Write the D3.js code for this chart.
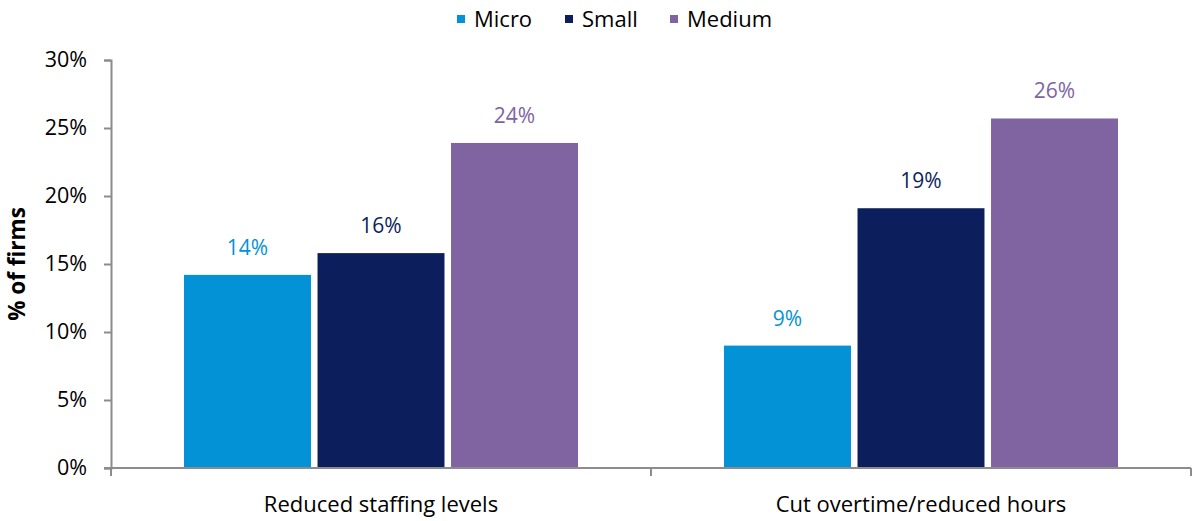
<!DOCTYPE html>
<html>
<head>
<meta charset="utf-8">
<script src="https://cdn.jsdelivr.net/npm/d3@7"></script>
<style>
  html, body { margin: 0; padding: 0; background: #fff; }
  svg { display: block; font-family: "Open Sans", "Noto Sans", sans-serif; }
</style>
</head>
<body>
<svg id="chart" width="1192" height="521"></svg>
<script>
// Share of firms taking each measure, by firm size
const categories = ["Reduced staffing levels", "Cut overtime/reduced hours"];
const seriesNames = ["Micro", "Small", "Medium"];
const micro = [0.142, 0.090];
const small = [0.158, 0.191];
const medium = [0.239, 0.257];
const yTicks = [0, 0.05, 0.10, 0.15, 0.20, 0.25, 0.30];
const colors = ["#0392d6", "#0c1e5b", "#8064a2"];

const seriesValues = [micro, small, medium];
const rows = categories.map((c, i) => ({
  category: c,
  values: seriesNames.map((s, j) => ({ series: s, value: seriesValues[j][i] }))
}));

const svg = d3.select("#chart");
const margin = { top: 60, right: 1, bottom: 53, left: 111 };
const width = 1192 - margin.left - margin.right;
const height = 521 - margin.top - margin.bottom;

const g = svg.append("g").attr("transform", `translate(${margin.left},${margin.top})`);

const x0 = d3.scaleBand().domain(categories).range([0, width]).padding(0);
const groupWidth = 394;
const x1 = d3.scaleBand().domain(seriesNames)
  .range([(x0.bandwidth() - groupWidth) / 2, (x0.bandwidth() + groupWidth) / 2])
  .paddingInner(0.049).paddingOuter(0);
const y = d3.scaleLinear().domain([0, 0.30]).range([height, 0]);
const color = d3.scaleOrdinal().domain(seriesNames).range(colors);
const fmt = d3.format(".0%");

// Bars
const groups = g.selectAll(".grp").data(rows).join("g")
  .attr("class", "grp")
  .attr("transform", d => `translate(${x0(d.category)},0)`);

groups.selectAll("rect").data(d => d.values).join("rect")
  .attr("x", d => x1(d.series))
  .attr("y", d => y(d.value))
  .attr("width", x1.bandwidth())
  .attr("height", d => height - y(d.value))
  .attr("fill", d => color(d.series));

// Value labels
groups.selectAll("text.val").data(d => d.values).join("text")
  .attr("class", "val")
  .attr("x", d => x1(d.series) + x1.bandwidth() / 2)
  .attr("y", d => y(d.value) - 20)
  .attr("text-anchor", "middle")
  .attr("font-size", 21)
  .attr("fill", d => color(d.series))
  .text(d => fmt(d.value));

// Y axis
const yAxis = g.append("g")
  .call(d3.axisLeft(y).tickValues(yTicks).tickFormat(fmt).tickSize(7).tickPadding(17));
yAxis.select(".domain").attr("stroke", "#8c8c8c").attr("stroke-width", 2);
yAxis.selectAll(".tick line").attr("stroke", "#8c8c8c").attr("stroke-width", 2);
yAxis.selectAll(".tick text").attr("font-size", 21.5).attr("fill", "#000")
  .attr("font-family", "'Open Sans', sans-serif");

// X axis
const xAxis = g.append("g").attr("transform", `translate(0,${height})`)
  .call(d3.axisBottom(x0).tickSize(0).tickPadding(28));
xAxis.select(".domain").remove();
xAxis.selectAll(".tick text").attr("font-size", 22).attr("fill", "#000")
  .attr("font-family", "'Open Sans', sans-serif");
g.append("line")
  .attr("x1", -7).attr("x2", width).attr("y1", height).attr("y2", height)
  .attr("stroke", "#8c8c8c").attr("stroke-width", 2);
// Category boundary ticks
const bounds = [0, x0.bandwidth(), width];
g.selectAll(".xb").data(bounds).join("line")
  .attr("class", "xb")
  .attr("x1", d => d).attr("x2", d => d)
  .attr("y1", height).attr("y2", height + 8)
  .attr("stroke", "#8c8c8c").attr("stroke-width", 2);

// Y axis title
svg.append("text")
  .attr("transform", `translate(25,${margin.top + height / 2}) rotate(-90)`)
  .attr("text-anchor", "middle")
  .attr("font-size", 22.5)
  .attr("font-weight", "bold")
  .attr("fill", "#000")
  .text("% of firms");

// Legend
const legendX = [457, 565, 670];
const legend = svg.append("g");
const items = legend.selectAll("g").data(seriesNames).join("g")
  .attr("transform", (d, i) => `translate(${legendX[i]},19)`);
items.append("rect")
  .attr("x", 0).attr("y", -4).attr("width", 8).attr("height", 8)
  .attr("fill", d => color(d));
items.append("text")
  .attr("x", 17).attr("y", 0).attr("dy", "0.35em")
  .attr("font-size", 22).attr("fill", "#000")
  .text(d => d);
</script>
</body>
</html>
